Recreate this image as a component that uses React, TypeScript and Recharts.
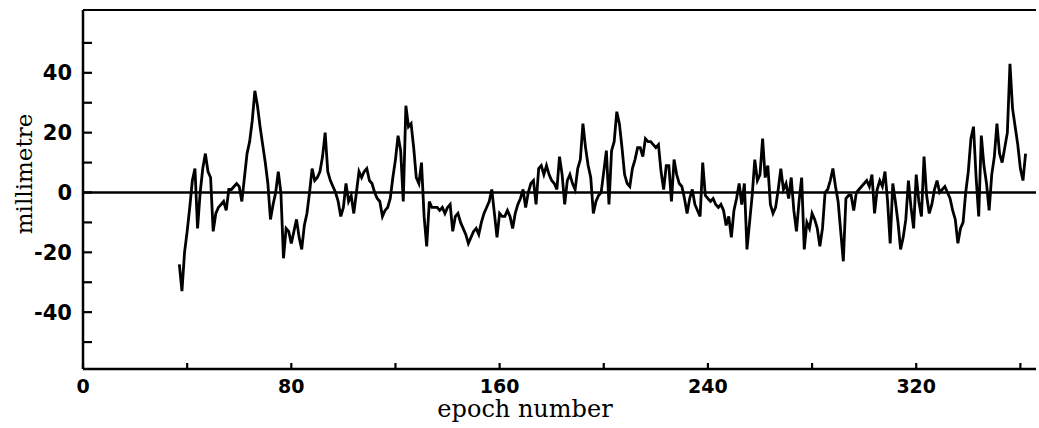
import { Label, Line, LineChart, ReferenceLine, XAxis, YAxis } from "recharts";

// epoch numbers run consecutively from firstEpoch
const firstEpoch = 37;
const displacement = [
  -24, -33, -20, -13, -5, 4, 8, -12, 0, 8, 13, 7, 5, -13, -7, -5, -4, -3, -6, 1,
  1, 2, 3, 2, -3, 5, 13, 17, 24, 34, 29, 22, 16, 10, 3, -9, -4, 0, 7, 0,
  -22, -12, -13, -17, -13, -9, -15, -19, -11, -7, 0, 8, 4, 5, 7, 12, 20, 7, 4, 2,
  0, -3, -8, -5, 3, -3, -1, -7, 0, 7, 5, 7, 8, 4, 3, 0, -2, -3, -8, -6,
  -5, -2, 5, 11, 19, 14, -3, 29, 22, 23, 15, 5, 3, 10, -8, -18, -3, -5, -5, -5,
  -6, -5, -7, -5, -4, -13, -8, -7, -10, -12, -14, -17, -15, -13, -12, -14, -10, -7, -5, -3,
  1, -7, -15, -7, -8, -8, -6, -8, -12, -7, -4, -2, 1, -5, 0, 3, 4, -4, 8, 9,
  6, 9, 6, 4, 3, 1, 12, 6, -4, 4, 6, 3, 1, 8, 11, 23, 15, 9, 5, -7,
  -3, -1, 0, 7, 14, -4, 14, 17, 27, 23, 15, 6, 3, 2, 8, 11, 15, 15, 12, 18,
  17, 17, 16, 15, 16, 7, 1, 9, 9, -3, 11, 6, 3, 2, -2, -7, -2, 1, -4, -6,
  -8, 10, -1, -2, -3, -2, -4, -5, -4, -6, -11, -8, -15, -6, -2, 3, -4, 3, -19, -10,
  -1, 11, 4, 6, 18, 5, 9, -4, -7, -5, 1, 8, 1, 3, -2, 5, -6, -13, -3, 5,
  -19, -10, -12, -7, -9, -12, -18, -12, 0, 1, 4, 8, 2, -3, -13, -23, -2, -1, -1, -6,
  0, 1, 2, 3, 4, 2, 6, -7, 1, 4, 2, 7, -3, -17, 3, -3, -10, -19, -15, -9,
  4, -5, -12, 6, -3, -8, 12, -1, -7, -4, 1, 4, 0, 1, 2, 0, -2, -6, -9, -17,
  -12, -10, 0, 7, 18, 22, 5, -8, 19, 9, 3, -6, 6, 12, 23, 13, 10, 15, 20, 43,
  28, 22, 16, 8, 4, 13,
];

const xTicks = [0, 40, 80, 120, 160, 200, 240, 280, 320, 360];
const xLabelled = [0, 80, 160, 240, 320];
const yTicks = [-50, -40, -30, -20, -10, 0, 10, 20, 30, 40, 50];
const yLabelled = [-40, -20, 0, 20, 40];

const data = displacement.map((v, i) => ({ epoch: firstEpoch + i, mm: v }));

const ink = "#000";

function YTick({ x, y, payload }: any) {
  return (
    <g>
      <line x1={x} x2={x + 9} y1={y} y2={y} stroke={ink} strokeWidth={2.2} />
      {yLabelled.includes(payload.value) && (
        <text
          x={x - 11}
          y={y}
          dy={7.5}
          textAnchor="end"
          fontFamily="DejaVu Sans"
          fontWeight="bold"
          fontSize={21}
          fill={ink}
        >
          {payload.value}
        </text>
      )}
    </g>
  );
}

function XTick({ x, y, payload }: any) {
  return (
    <g>
      <line x1={x} x2={x} y1={y} y2={y - 6} stroke={ink} strokeWidth={2.2} />
      {xLabelled.includes(payload.value) && (
        <text
          x={x}
          y={y + 24}
          textAnchor="middle"
          fontFamily="DejaVu Sans"
          fontWeight="bold"
          fontSize={19}
          fill={ink}
        >
          {payload.value}
        </text>
      )}
    </g>
  );
}

function XTitle({ viewBox }: any) {
  return (
    <text
      x={viewBox.x + 442}
      y={viewBox.y + 48}
      textAnchor="middle"
      fontFamily="DejaVu Serif"
      fontSize={24}
      fill={ink}
    >
      epoch number
    </text>
  );
}

function YTitle({ viewBox }: any) {
  const cx = viewBox.x + 32;
  const cy = viewBox.y + 164;
  return (
    <text
      x={cx}
      y={cy}
      transform={`rotate(-90, ${cx}, ${cy})`}
      textAnchor="middle"
      fontFamily="DejaVu Serif"
      fontSize={23}
      fill={ink}
    >
      millimetre
    </text>
  );
}

export default function App() {
  return (
    <div style={{ position: "absolute", left: 0, top: 0, background: "#fff" }}>
      <LineChart
        width={1039}
        height={428}
        data={data}
        margin={{ top: 10, right: 3, left: 0, bottom: 0 }}
      >
        <XAxis
          dataKey="epoch"
          type="number"
          domain={[0, 366]}
          ticks={xTicks}
          interval={0}
          height={59}
          tickSize={0}
          tickMargin={0}
          tickLine={false}
          axisLine={{ stroke: ink, strokeWidth: 2.5 }}
          tick={<XTick />}
        >
          <Label content={<XTitle />} />
        </XAxis>
        <YAxis
          type="number"
          domain={[-59, 61]}
          ticks={yTicks}
          interval={0}
          width={83}
          tickSize={0}
          tickMargin={0}
          tickLine={false}
          axisLine={{ stroke: ink, strokeWidth: 2.5 }}
          tick={<YTick />}
        >
          <Label content={<YTitle />} />
        </YAxis>
        <ReferenceLine y={61} stroke={ink} strokeWidth={2.2} />
        <ReferenceLine y={0} stroke={ink} strokeWidth={2.5} />
        <Line
          type="linear"
          dataKey="mm"
          stroke={ink}
          strokeWidth={2.8}
          dot={false}
          isAnimationActive={false}
        />
      </LineChart>
    </div>
  );
}
